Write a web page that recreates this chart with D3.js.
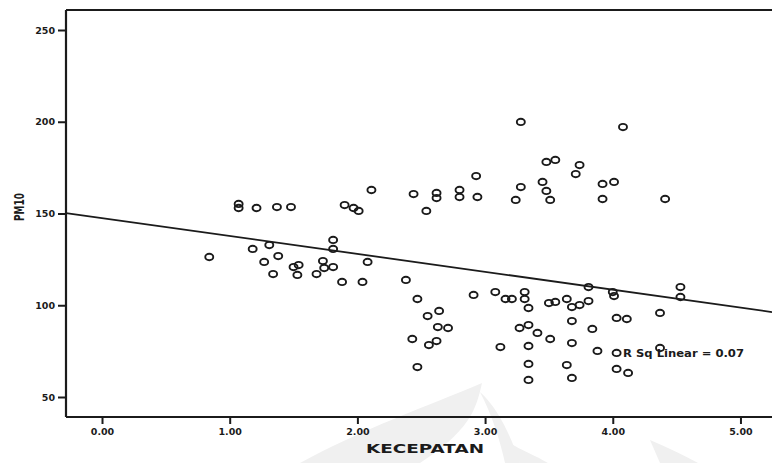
<!DOCTYPE html>
<html>
<head>
<meta charset="utf-8">
<script src="https://cdn.jsdelivr.net/npm/d3@7"></script>
<style>
  html, body { margin: 0; padding: 0; background: #fff; }
  svg { display: block; }
</style>
</head>
<body>
<svg id="chart" width="772" height="463"></svg>
<script>
// ---- data ----
const kecepatan = [0.84,1.07,1.07,1.18,1.21,1.31,1.27,1.38,1.34,1.37,1.48,1.50,1.54,1.53,1.68,1.73,1.74,1.81,1.81,1.81,
  1.88,1.90,1.97,2.01,2.04,2.08,2.11,2.38,2.44,2.47,2.47,2.43,2.55,2.64,2.63,2.71,2.56,2.62,2.54,2.62,
  2.62,2.80,2.80,2.93,2.94,2.91,3.08,3.16,3.21,3.31,3.31,3.34,3.50,3.55,3.64,3.68,3.74,3.81,3.81,4.00,
  4.01,4.53,4.53,4.37,4.03,4.11,3.68,3.84,3.27,3.34,3.41,3.51,3.68,3.12,3.34,3.88,4.03,4.37,3.34,3.64,
  4.03,4.12,3.34,3.68,3.28,4.08,3.48,3.55,3.74,3.71,3.28,3.45,3.48,3.51,3.24,3.92,4.01,3.92,4.41];
const pm10 = [126.3,155.2,153.0,130.7,153.0,132.8,123.6,126.8,117.0,153.5,153.5,120.8,121.9,116.5,117.0,124.1,120.3,120.8,135.6,130.7,
  112.7,154.6,153.0,151.4,112.7,123.6,162.8,113.8,160.6,103.4,66.3,81.6,94.1,96.9,88.1,87.6,78.3,80.5,151.4,161.2,
  158.4,162.8,159.0,170.4,159.0,105.6,107.2,103.4,103.4,107.2,103.4,98.5,101.2,101.8,103.4,99.0,100.1,102.3,109.9,107.2,
  105.0,109.9,104.5,95.8,93.1,92.5,91.4,87.1,87.6,89.2,84.9,81.6,79.4,77.2,77.8,75.1,74.0,76.7,68.0,67.4,
  65.3,63.1,59.3,60.4,199.9,197.1,178.1,179.2,176.4,171.5,164.4,167.2,162.3,157.4,157.4,166.1,167.2,157.9,157.9];
const xTicks = [0, 1, 2, 3, 4, 5];
const yTicks = [50, 100, 150, 200, 250];
const fitIntercept = [147.5];
const fitSlope = [-9.76];
const fitLabel = ["R Sq Linear = 0.07"];
const xTitle = "KECEPATAN";
const yTitle = "PM10";

// ---- layout ----
const svg = d3.select("#chart");
const L = 66, T = 10, R = 773, B = 417;
const x = d3.scaleLinear().domain([-0.282, 5.247]).range([L, 772]);
const y = d3.scaleLinear().domain([39.1, 260.9]).range([B, T]);
const ink = "#1b1b1b";

// faint watermark (logo) at the bottom
const wm = svg.append("g").attr("fill", "#f0f0f0");
wm.append("path").attr("d", "M300,463 C360,430 430,405 482,383 C476,410 470,430 420,463 Z");
wm.append("path").attr("d", "M480,392 C492,415 500,440 505,463 L520,463 C512,440 500,410 480,392 Z");
wm.append("path").attr("d", "M505,440 C520,450 535,455 548,463 L520,463 Z");
wm.append("path").attr("d", "M650,440 C668,448 684,455 698,463 L660,463 Z");

// frame
svg.append("line").attr("x1", L).attr("x2", R).attr("y1", T).attr("y2", T)
  .attr("stroke", ink).attr("stroke-width", 2);

// axes
const fontFam = "'DejaVu Sans', 'Liberation Sans', sans-serif";
const yAxis = svg.append("g").attr("transform", `translate(${L},0)`)
  .call(d3.axisLeft(y).tickValues(yTicks).tickSize(8).tickPadding(3).tickFormat(d3.format(".0f")).tickSizeOuter(0));
const xAxis = svg.append("g").attr("transform", `translate(0,${B})`)
  .call(d3.axisBottom(x).tickValues(xTicks).tickSize(7).tickPadding(4).tickFormat(d3.format(".2f")).tickSizeOuter(0));
[yAxis, xAxis].forEach(g => {
  g.select(".domain").attr("stroke", ink).attr("stroke-width", 2.2);
  g.selectAll(".tick line").attr("stroke", ink).attr("stroke-width", 2);
  g.selectAll(".tick text").attr("fill", ink).attr("font-family", fontFam)
    .attr("font-weight", "bold").attr("font-size", 9.5);
});
yAxis.select(".domain").attr("d", `M0,${T}V${B}`);
xAxis.select(".domain").attr("d", `M${L},0H${R}`);

// regression line
const x0 = x.domain()[0], x1 = x.domain()[1];
svg.append("line")
  .attr("x1", x(x0)).attr("y1", y(fitIntercept[0] + fitSlope[0] * x0))
  .attr("x2", x(x1)).attr("y2", y(fitIntercept[0] + fitSlope[0] * x1))
  .attr("stroke", ink).attr("stroke-width", 1.8);

// points
svg.append("g").selectAll("ellipse").data(kecepatan.map((k, i) => [k, pm10[i]]))
  .join("ellipse")
  .attr("cx", d => x(d[0])).attr("cy", d => y(d[1]))
  .attr("rx", 4).attr("ry", 3.2)
  .attr("fill", "none").attr("stroke", ink).attr("stroke-width", 1.9);

// fit label
svg.append("text").attr("x", 623).attr("y", 357)
  .attr("font-family", fontFam).attr("font-weight", "bold").attr("font-size", 10)
  .attr("fill", ink).attr("textLength", 121).attr("lengthAdjust", "spacingAndGlyphs")
  .text(fitLabel[0]);

// axis titles
svg.append("text").attr("x", 425).attr("y", 453).attr("text-anchor", "middle")
  .attr("font-family", fontFam).attr("font-weight", "bold").attr("font-size", 13)
  .attr("fill", ink).attr("textLength", 118).attr("lengthAdjust", "spacingAndGlyphs")
  .text(xTitle);
svg.append("text").attr("transform", "translate(24,207) rotate(-90)").attr("text-anchor", "middle")
  .attr("font-family", fontFam).attr("font-weight", "bold").attr("font-size", 14)
  .attr("fill", ink).attr("textLength", 28).attr("lengthAdjust", "spacingAndGlyphs")
  .text(yTitle);
</script>
</body>
</html>
